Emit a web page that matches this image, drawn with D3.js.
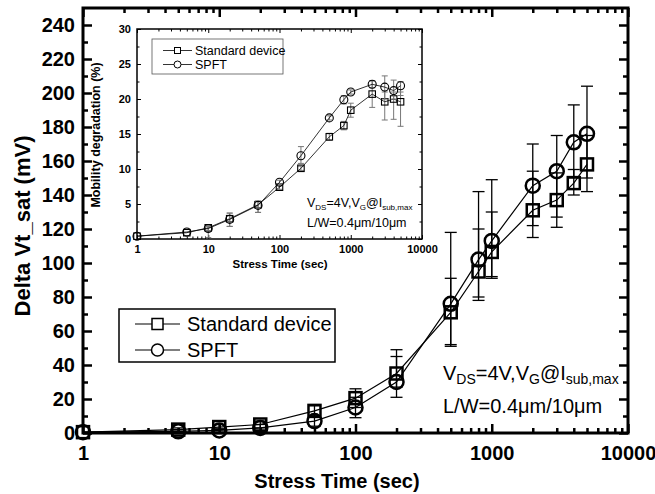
<!DOCTYPE html>
<html><head><meta charset="utf-8">
<script src="https://cdn.jsdelivr.net/npm/d3@7"></script>
<style>
html,body{margin:0;padding:0;background:#fff;}
svg{display:block;}
text{font-family:"Liberation Sans",Arial,sans-serif;}
</style></head>
<body>
<svg id="c" width="655" height="494"></svg>
<script>
// ---------- data ----------
const stressTime = [1, 5, 10, 20, 50, 100, 200, 500, 800, 1000, 2000, 3000, 4000, 5000];
// main chart: Delta Vt_sat (mV)
const stdVt   = [0.5, 2, 3.5, 5, 13, 20.5, 35, 71, 95, 106.5, 131, 137, 147, 158];
const stdVtLo = [0.5, 1, 2, 3, 10, 15, 27, 51, 78, 91, 115, 121, 140, 142];
const stdVtHi = [0.5, 3, 5, 7, 16, 26, 45, 91, 120, 130, 154, 153, 155, 175];
const spftVt   = [0.5, 1, 1.5, 3, 7, 15, 30, 76, 102, 113, 145.5, 154, 171, 176];
const spftVtLo = [0.5, 0, 0.5, 1, 4, 9, 21, 52, 80, 92, 122, 127, 150, 150];
const spftVtHi = [0.5, 2, 2.5, 5, 10, 21, 49, 118, 142, 149, 170, 175, 193, 204];
// inset: Mobility degradation (%)
const stdMob   = [0.4, 0.9, 1.6, 2.9, 4.9, 7.4, 10.1, 14.6, 16.2, 18.4, 20.7, 19.6, 20.0, 19.6];
const stdMobLo = [0.4, 0.9, 0.2, 1.8, 3.8, 7.1, 9.8, 14.1, 15.6, 17.4, 18.8, 17.0, 17.1, 16.1];
const stdMobHi = [0.4, 0.9, 1.9, 3.7, 5.4, 7.7, 10.4, 15.1, 16.8, 19.4, 22.6, 21.0, 21.0, 21.0];
const spftMob   = [0.4, 1.0, 1.5, 2.8, 4.8, 8.1, 11.9, 17.3, 19.9, 21.0, 22.1, 21.7, 21.2, 21.9];
const spftMobLo = [0.4, 1.0, 1.2, 1.8, 3.8, 7.8, 10.8, 17.0, 19.3, 20.7, 21.6, 20.0, 20.0, 20.5];
const spftMobHi = [0.4, 1.0, 1.8, 3.7, 5.4, 8.4, 13.2, 17.6, 20.5, 21.3, 22.6, 23.3, 22.7, 22.5];
const seriesNames = ["Standard device", "SPFT"];
const mainYTicks = [0, 20, 40, 60, 80, 100, 120, 140, 160, 180, 200, 220, 240];
const insetYTicks = [0, 5, 10, 15, 20, 25, 30];
const xTicks = [1, 10, 100, 1000, 10000];

// ---------- helpers ----------
const svg = d3.select("#c");
const FONT = '"Liberation Sans",Arial,sans-serif';
function minorLog(lo, hi){ const a=[]; for(let d=lo; d<hi; d*=10) for(let k=2;k<=9;k++) a.push(d*k); return a; }

function drawPanel(cfg){
  const {x, y, g, tickMajor, tickMinor, tickW, frameW, yMinor, fontSize, xLabelDy, yLabelDx} = cfg;
  const [x0,x1] = x.range(), [y0,y1] = y.range();
  g.append("rect").attr("x",x0).attr("y",y1).attr("width",x1-x0).attr("height",y0-y1).attr("fill","#fff");
  const bottom = d3.axisBottom(x).tickValues(xTicks).tickSize(-tickMajor).tickFormat(d3.format("d")).tickPadding(xLabelDy);
  g.append("g").attr("transform",`translate(0,${y0})`).call(bottom);
  g.append("g").attr("transform",`translate(0,${y0})`).call(d3.axisBottom(x).tickValues(minorLog(1,10000)).tickSize(-tickMinor).tickFormat(""));
  g.append("g").attr("transform",`translate(0,${y1})`).call(d3.axisTop(x).tickValues(xTicks).tickSize(-tickMajor).tickFormat(""));
  g.append("g").attr("transform",`translate(0,${y1})`).call(d3.axisTop(x).tickValues(minorLog(1,10000)).tickSize(-tickMinor).tickFormat(""));
  g.append("g").attr("transform",`translate(${x0},0)`).call(d3.axisLeft(y).tickValues(cfg.yTicks).tickSize(-tickMajor).tickPadding(yLabelDx).tickFormat(d3.format("d")));
  g.append("g").attr("transform",`translate(${x0},0)`).call(d3.axisLeft(y).tickValues(yMinor).tickSize(-tickMinor).tickFormat(""));
  g.append("g").attr("transform",`translate(${x1},0)`).call(d3.axisRight(y).tickValues(cfg.yTicks).tickSize(-tickMajor).tickFormat(""));
  g.append("g").attr("transform",`translate(${x1},0)`).call(d3.axisRight(y).tickValues(yMinor).tickSize(-tickMinor).tickFormat(""));
  g.selectAll(".domain").remove();
  g.selectAll(".tick line").attr("stroke","#000").attr("stroke-width",tickW);
  g.selectAll(".tick text").attr("fill","#000").style("font-family",FONT).style("font-weight","bold").style("font-size",fontSize+"px");
  g.append("rect").attr("x",x0).attr("y",y1).attr("width",x1-x0).attr("height",y0-y1)
    .attr("fill","none").attr("stroke","#000").attr("stroke-width",frameW);
}

function drawSeries(g, x, y, vals, lo, hi, shape, o){
  const pts = stressTime.map((t,i)=>({t, v:vals[i], lo:lo[i], hi:hi[i]}));
  const eb = g.append("g").attr("stroke",o.errColor).attr("stroke-width",o.errW);
  pts.forEach(p=>{
    if (p.hi - p.lo <= 0) return;
    const cx = x(p.t);
    eb.append("line").attr("x1",cx).attr("x2",cx).attr("y1",y(p.lo)).attr("y2",y(p.hi));
    eb.append("line").attr("x1",cx-o.cap).attr("x2",cx+o.cap).attr("y1",y(p.lo)).attr("y2",y(p.lo));
    eb.append("line").attr("x1",cx-o.cap).attr("x2",cx+o.cap).attr("y1",y(p.hi)).attr("y2",y(p.hi));
  });
  g.append("path").datum(pts).attr("fill","none").attr("stroke","#000").attr("stroke-width",o.lineW)
    .attr("d", d3.line().x(d=>x(d.t)).y(d=>y(d.v)));
  const m = g.append("g").attr("fill","none").attr("stroke","#000").attr("stroke-width",o.markW);
  pts.forEach(p=>{
    if (shape==="square") m.append("rect").attr("x",x(p.t)-o.size/2).attr("y",y(p.v)-o.size/2).attr("width",o.size).attr("height",o.size);
    else m.append("circle").attr("cx",x(p.t)).attr("cy",y(p.v)).attr("r",o.size/2+0.5);
  });
}

function legendMarker(g, shape, cx, cy, size, w){
  if (shape==="square") g.append("rect").attr("x",cx-size/2).attr("y",cy-size/2).attr("width",size).attr("height",size).attr("fill","#fff").attr("stroke","#000").attr("stroke-width",w);
  else g.append("circle").attr("cx",cx).attr("cy",cy).attr("r",size/2+0.5).attr("fill","#fff").attr("stroke","#000").attr("stroke-width",w);
}

// ---------- main chart ----------
const X = d3.scaleLog().domain([1,10000]).range([83,628]);
const Y = d3.scaleLinear().domain([0,250]).range([433,8]);
const gm = svg.append("g");
drawPanel({x:X, y:Y, g:gm, tickMajor:9, tickMinor:5, tickW:2.5, frameW:3,
  yTicks:mainYTicks, yMinor:d3.range(10,250,20), fontSize:20, xLabelDy:13, yLabelDx:8});
drawSeries(gm, X, Y, stdVt, stdVtLo, stdVtHi, "square", {errColor:"#000", errW:1.3, cap:6, lineW:1.2, markW:2.5, size:12});
drawSeries(gm, X, Y, spftVt, spftVtLo, spftVtHi, "circle", {errColor:"#000", errW:1.3, cap:6, lineW:1.2, markW:2.5, size:13});

svg.append("text").attr("x",337).attr("y",488).attr("text-anchor","middle")
  .style("font-weight","bold").style("font-size","20px").text("Stress Time (sec)");
svg.append("text").attr("transform","translate(30,226) rotate(-90)").attr("text-anchor","middle")
  .style("font-weight","bold").style("font-size","22px").text("Delta Vt_sat (mV)");

const lg = svg.append("g");
lg.append("rect").attr("x",119).attr("y",309).attr("width",216).attr("height",53).attr("fill","#fff").attr("stroke","#000").attr("stroke-width",1.5);
[["square",324],["circle",350]].forEach(([s,yy],i)=>{
  lg.append("line").attr("x1",135).attr("x2",180).attr("y1",yy).attr("y2",yy).attr("stroke","#000").attr("stroke-width",1.2);
  legendMarker(lg, s, 157.5, yy, 11, 1.5);
  lg.append("text").attr("x",187).attr("y",yy+7).style("font-size","20px").text(seriesNames[i]);
});

function annot(g, x, y1, y2, fs, subfs){
  const t = g.append("text").attr("x",x).attr("y",y1).style("font-size",fs+"px");
  t.append("tspan").text("V");
  t.append("tspan").attr("dy",fs*0.22).style("font-size",subfs+"px").text("DS");
  t.append("tspan").attr("dy",-fs*0.22).text("=4V,V");
  t.append("tspan").attr("dy",fs*0.22).style("font-size",subfs+"px").text("G");
  t.append("tspan").attr("dy",-fs*0.22).text("@I");
  t.append("tspan").attr("dy",fs*0.22).style("font-size",subfs+"px").text("sub,max");
  g.append("text").attr("x",x).attr("y",y2).style("font-size",fs+"px").text("L/W=0.4\u03bcm/10\u03bcm");
}
annot(svg, 443, 380, 413, 20, 14);

// ---------- inset ----------
const XI = d3.scaleLog().domain([1,10000]).range([137,422]);
const YI = d3.scaleLinear().domain([0,30]).range([239,29]);
const gi = svg.append("g");
drawPanel({x:XI, y:YI, g:gi, tickMajor:4, tickMinor:2.5, tickW:1, frameW:1.5,
  yTicks:insetYTicks, yMinor:d3.range(2.5,30,5), fontSize:11, xLabelDy:6, yLabelDx:6});
drawSeries(gi, XI, YI, stdMob, stdMobLo, stdMobHi, "square", {errColor:"#777", errW:1, cap:3, lineW:0.8, markW:1.1, size:6.5});
drawSeries(gi, XI, YI, spftMob, spftMobLo, spftMobHi, "circle", {errColor:"#777", errW:1, cap:3, lineW:0.8, markW:1.1, size:7});

svg.append("text").attr("x",280).attr("y",268).attr("text-anchor","middle")
  .style("font-weight","bold").style("font-size","11.5px").text("Stress Time (sec)");
svg.append("text").attr("transform","translate(100,135) rotate(-90)").attr("text-anchor","middle")
  .style("font-weight","bold").style("font-size","12.5px").text("Mobility degradation (%)");

const li = svg.append("g");
li.append("rect").attr("x",152).attr("y",39).attr("width",131).attr("height",35).attr("fill","#fff").attr("stroke","#555").attr("stroke-width",0.8);
[["square",50.5],["circle",64.5]].forEach(([s,yy],i)=>{
  li.append("line").attr("x1",163).attr("x2",192).attr("y1",yy).attr("y2",yy).attr("stroke","#000").attr("stroke-width",0.8);
  legendMarker(li, s, 177.5, yy, 6, 1);
  li.append("text").attr("x",195).attr("y",yy+4.5).style("font-size","12.5px").text(seriesNames[i]);
});
annot(svg, 307, 207, 227, 12.5, 8);
</script>
</body></html>
